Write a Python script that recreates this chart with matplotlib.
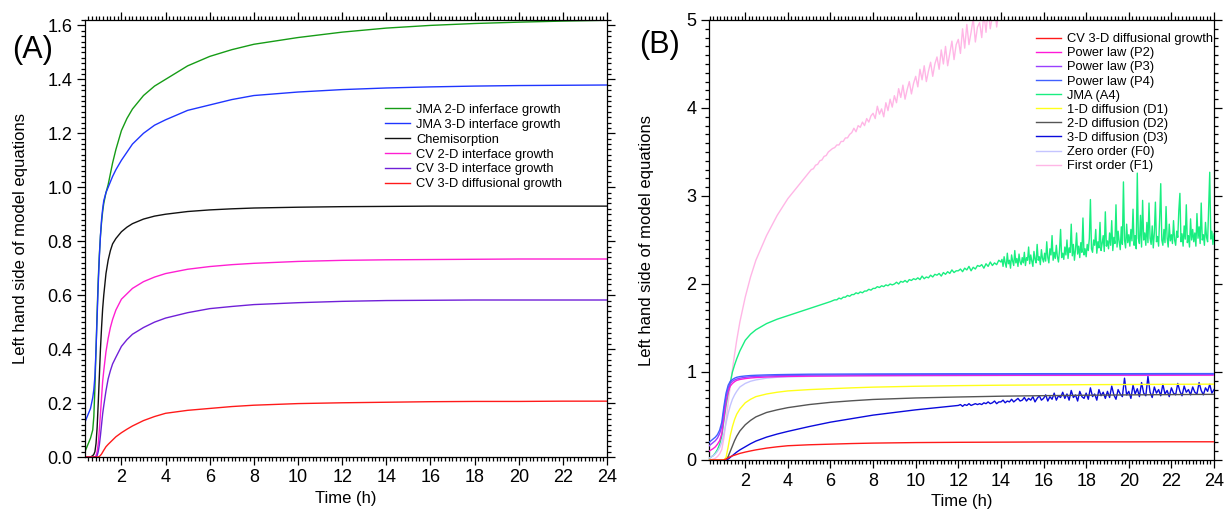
import numpy as np
import matplotlib
matplotlib.use("Agg")
import matplotlib.pyplot as plt
from matplotlib.ticker import MultipleLocator, FormatStrFormatter

plt.rcParams['font.family'] = ['Liberation Sans', 'DejaVu Sans']

# ---------------- Panel A data (time in h, value of g(alpha)) ----------------
t_a = [0.35, 0.5, 0.6, 0.7, 0.75, 0.8, 0.85, 0.9, 0.95, 1.0, 1.05, 1.1, 1.15, 1.2, 1.3,
       1.4, 1.5, 1.6, 1.75, 2.0, 2.25, 2.5, 3.0, 3.5, 4.0, 5.0, 6.0, 7.0, 8.0, 10.0,
       12.0, 14.0, 16.0, 18.0, 20.0, 22.0, 24.0]
jma2d = [0.02, 0.05, 0.07, 0.10, 0.15, 0.26, 0.40, 0.54, 0.66, 0.75, 0.82, 0.87, 0.91, 0.94, 0.98,
         1.01, 1.05, 1.09, 1.14, 1.21, 1.255, 1.29, 1.34, 1.375, 1.40, 1.45, 1.485, 1.51, 1.53, 1.555,
         1.575, 1.59, 1.60, 1.607, 1.612, 1.616, 1.619]
jma3d = [0.13, 0.16, 0.18, 0.22, 0.25, 0.30, 0.40, 0.52, 0.64, 0.74, 0.82, 0.88, 0.92, 0.95, 0.98,
         1.00, 1.02, 1.04, 1.065, 1.10, 1.13, 1.16, 1.20, 1.23, 1.25, 1.285, 1.305, 1.325, 1.34, 1.353,
         1.362, 1.368, 1.372, 1.375, 1.377, 1.378, 1.379]
chemi = [0.0, 0.0, 0.0, 0.005, 0.01, 0.02, 0.05, 0.11, 0.20, 0.30, 0.40, 0.48, 0.55, 0.60, 0.68,
         0.73, 0.765, 0.79, 0.81, 0.835, 0.852, 0.865, 0.882, 0.893, 0.90, 0.91, 0.916, 0.92, 0.923, 0.926,
         0.928, 0.929, 0.93, 0.93, 0.93, 0.93, 0.93]
cv2d = [0.0, 0.0, 0.0, 0.0, 0.0, 0.0, 0.005, 0.02, 0.05, 0.10, 0.16, 0.22, 0.28, 0.32, 0.39,
        0.44, 0.48, 0.51, 0.545, 0.585, 0.605, 0.625, 0.65, 0.667, 0.68, 0.696, 0.706, 0.713, 0.718, 0.725,
        0.729, 0.731, 0.732, 0.733, 0.734, 0.734, 0.734]
cv3d = [0.0, 0.0, 0.0, 0.0, 0.0, 0.0, 0.0, 0.005, 0.02, 0.045, 0.08, 0.12, 0.16, 0.19, 0.245,
        0.29, 0.32, 0.345, 0.37, 0.41, 0.435, 0.455, 0.48, 0.50, 0.515, 0.535, 0.55, 0.558, 0.565, 0.572,
        0.577, 0.58, 0.581, 0.582, 0.582, 0.582, 0.582]
cv3d_diff = [0.0, 0.0, 0.0, 0.0, 0.0, 0.0, 0.0, 0.0, 0.0, 0.002, 0.006, 0.011, 0.018, 0.025, 0.038,
             0.047, 0.055, 0.063, 0.075, 0.09, 0.103, 0.115, 0.135, 0.15, 0.162, 0.173, 0.18, 0.187, 0.192, 0.198,
             0.201, 0.203, 0.205, 0.206, 0.206, 0.207, 0.207]

# ---------------- Panel B data ----------------
t_b = [0.3, 0.5, 0.6, 0.7, 0.8, 0.9, 1.0, 1.1, 1.2, 1.3, 1.4, 1.5, 1.6, 1.75, 2.0,
       2.25, 2.5, 3.0, 3.5, 4.0, 5.0, 6.0, 7.0, 8.0, 10.0, 12.0, 14.0, 16.0, 18.0, 20.0,
       22.0, 24.0]
p2 = [0.10, 0.13, 0.15, 0.18, 0.22, 0.30, 0.48, 0.66, 0.78, 0.84, 0.87, 0.89, 0.905, 0.915, 0.925,
      0.932, 0.937, 0.943, 0.947, 0.95, 0.953, 0.955, 0.957, 0.958, 0.96, 0.961, 0.962, 0.963, 0.963, 0.964,
      0.964, 0.965]
p3 = [0.16, 0.20, 0.22, 0.25, 0.30, 0.38, 0.56, 0.72, 0.82, 0.87, 0.895, 0.91, 0.92, 0.93, 0.94,
      0.946, 0.95, 0.955, 0.958, 0.961, 0.964, 0.966, 0.968, 0.969, 0.97, 0.971, 0.972, 0.972, 0.973, 0.973,
      0.974, 0.974]
p4 = [0.20, 0.24, 0.26, 0.29, 0.34, 0.43, 0.61, 0.76, 0.85, 0.895, 0.915, 0.93, 0.94, 0.948, 0.955,
      0.96, 0.963, 0.967, 0.97, 0.972, 0.975, 0.976, 0.977, 0.978, 0.979, 0.98, 0.98, 0.981, 0.981, 0.981,
      0.982, 0.982]
d1 = [0.0, 0.0, 0.0, 0.0, 0.0, 0.0, 0.0, 0.03, 0.15, 0.28, 0.38, 0.46, 0.52, 0.58, 0.65,
      0.69, 0.72, 0.75, 0.77, 0.785, 0.80, 0.81, 0.82, 0.828, 0.838, 0.845, 0.85, 0.853, 0.856, 0.858,
      0.86, 0.862]
d2 = [0.0, 0.0, 0.0, 0.0, 0.0, 0.0, 0.0, 0.005, 0.04, 0.10, 0.16, 0.22, 0.27, 0.33, 0.40,
      0.45, 0.49, 0.54, 0.57, 0.595, 0.63, 0.655, 0.673, 0.688, 0.705, 0.716, 0.725, 0.731, 0.736, 0.74,
      0.743, 0.746]
f0 = [0.02, 0.05, 0.07, 0.10, 0.14, 0.20, 0.30, 0.42, 0.53, 0.62, 0.69, 0.74, 0.78, 0.83, 0.87,
      0.895, 0.91, 0.93, 0.94, 0.945, 0.95, 0.953, 0.955, 0.957, 0.958, 0.959, 0.96, 0.96, 0.961, 0.961,
      0.962, 0.962]

# 3-D diffusion (D3): smooth part up to 10 h, then the noisy record 12-24 h every 0.1 h
d3_head = [0.0, 0.0, 0.0, 0.0, 0.0, 0.0, 0.0, 0.002, 0.01, 0.03, 0.05, 0.07, 0.09, 0.115, 0.15,
           0.185, 0.215, 0.26, 0.295, 0.325, 0.38, 0.43, 0.47, 0.51, 0.57]
t_d3_tail = np.round(np.arange(12.0, 24.0001, 0.1), 2)
d3_tail = [0.62, 0.63, 0.61, 0.63, 0.62, 0.64, 0.62, 0.63, 0.64, 0.63,
           0.64, 0.63, 0.65, 0.64, 0.66, 0.64, 0.65, 0.67, 0.64, 0.66,
           0.66, 0.68, 0.65, 0.67, 0.66, 0.69, 0.66, 0.68, 0.70, 0.67,
           0.68, 0.71, 0.67, 0.70, 0.68, 0.72, 0.66, 0.70, 0.73, 0.68,
           0.70, 0.74, 0.67, 0.72, 0.69, 0.76, 0.68, 0.73, 0.71, 0.77,
           0.70, 0.75, 0.68, 0.79, 0.71, 0.74, 0.67, 0.78, 0.72, 0.70,
           0.76, 0.69, 0.82, 0.72, 0.75, 0.68, 0.80, 0.73, 0.77, 0.70,
           0.78, 0.71, 0.84, 0.74, 0.69, 0.80, 0.75, 0.72, 0.93, 0.74,
           0.78, 0.70, 0.85, 0.75, 0.81, 0.72, 0.88, 0.76, 0.73, 0.95,
           0.77, 0.71, 0.83, 0.76, 0.80, 0.73, 0.86, 0.75, 0.79, 0.72,
           0.82, 0.76, 0.74, 0.87, 0.78, 0.73, 0.84, 0.77, 0.80, 0.74,
           0.83, 0.77, 0.75, 0.88, 0.79, 0.74, 0.82, 0.78, 0.86, 0.76,
           0.80]

# JMA (A4): smooth rise up to 5 h, 6-14 h every 0.1 h, 14-24 h every 0.05 h
a4_head = [0.02, 0.05, 0.08, 0.12, 0.18, 0.27, 0.45, 0.62, 0.76, 0.88, 1.00, 1.08, 1.15, 1.24, 1.36,
           1.43, 1.48, 1.55, 1.60, 1.64, 1.72]
t_a4_mid = np.round(np.arange(6.0, 14.0001, 0.1), 2)
a4_mid = [1.80, 1.81, 1.82, 1.82, 1.84, 1.83, 1.85, 1.85, 1.87, 1.86,
          1.88, 1.88, 1.90, 1.89, 1.91, 1.90, 1.92, 1.92, 1.94, 1.93,
          1.95, 1.95, 1.97, 1.96, 1.98, 1.97, 1.99, 1.98, 2.00, 1.99,
          2.00, 2.02, 2.00, 2.03, 2.02, 2.04, 2.02, 2.05, 2.04, 2.06,
          2.05, 2.07, 2.05, 2.09, 2.06, 2.08, 2.07, 2.10, 2.08, 2.11,
          2.10, 2.12, 2.09, 2.13, 2.11, 2.14, 2.12, 2.16, 2.13, 2.15,
          2.15, 2.17, 2.14, 2.18, 2.16, 2.20, 2.15, 2.19, 2.17, 2.21,
          2.20, 2.22, 2.18, 2.23, 2.20, 2.25, 2.21, 2.24, 2.22, 2.27,
          2.25]
t_a4_tail = np.round(np.arange(14.05, 24.0001, 0.05), 2)
a4_tail = [2.28, 2.20, 2.31, 2.24, 2.19, 2.35, 2.23, 2.27, 2.18, 2.33, 2.26, 2.21, 2.38, 2.24, 2.29, 2.20, 2.34, 2.25, 2.22, 2.30,
           2.24, 2.36, 2.21, 2.30, 2.27, 2.42, 2.23, 2.33, 2.26, 2.20, 2.37, 2.28, 2.24, 2.45, 2.27, 2.31, 2.22, 2.39, 2.29, 2.25,
           2.35, 2.26, 2.48, 2.30, 2.24, 2.40, 2.33, 2.55, 2.27, 2.36, 2.29, 2.44, 2.31, 2.25, 2.38, 2.62, 2.30, 2.35, 2.28, 2.42,
           2.33, 2.50, 2.29, 2.41, 2.36, 2.68, 2.32, 2.45, 2.27, 2.39, 2.58, 2.34, 2.43, 2.30, 2.47, 2.36, 2.75, 2.33, 2.40, 2.31,
           2.45, 2.38, 2.52, 2.96, 2.40, 2.36, 2.50, 2.44, 2.62, 2.35, 2.48, 2.41, 2.70, 2.38, 2.46, 2.55, 2.37, 2.82, 2.43, 2.49,
           2.40, 2.58, 2.44, 2.72, 2.38, 2.53, 2.46, 2.90, 2.42, 2.60, 2.48, 2.39, 2.65, 2.45, 3.16, 2.50, 2.41, 2.68, 2.47, 2.56,
           2.43, 2.62, 2.49, 2.85, 2.44, 2.55, 2.40, 3.26, 2.52, 2.46, 2.78, 2.42, 2.95, 2.50, 2.58, 2.44, 2.70, 2.47, 2.92, 2.52,
           2.45, 2.66, 2.41, 2.58, 2.93, 2.48, 2.54, 2.43, 2.75, 3.14, 2.50, 2.44, 2.62, 2.47, 2.88, 2.52, 2.42, 2.68, 2.49, 2.56,
           2.46, 2.72, 2.50, 2.44, 2.60, 2.53, 2.84, 3.03, 2.48, 2.57, 2.43, 2.66, 2.51, 2.90, 2.47, 2.55, 2.42, 2.74, 2.50, 2.62,
           2.48, 2.58, 2.43, 2.80, 2.52, 2.65, 2.46, 2.92, 2.50, 2.56, 2.44, 2.70, 2.53, 2.48, 2.86, 3.27, 2.51, 2.60, 2.45, 2.57]

# First order (F1): smooth rise to 4 h, noisy record 5-16 h every 0.1 h, then beyond the axis
f1_head = [0.0, 0.01, 0.02, 0.04, 0.07, 0.12, 0.25, 0.45, 0.65, 0.85, 1.03, 1.20, 1.36, 1.57, 1.85,
           2.08, 2.27, 2.55, 2.78, 2.97]
t_f1_mid = np.round(np.arange(5.0, 16.0001, 0.1), 2)
f1_mid = [3.27, 3.30, 3.31, 3.35, 3.36, 3.40, 3.41, 3.45, 3.46, 3.50,
          3.52, 3.54, 3.55, 3.58, 3.58, 3.62, 3.62, 3.66, 3.66, 3.70,
          3.72, 3.77, 3.73, 3.80, 3.78, 3.84, 3.80, 3.88, 3.84, 3.91,
          3.94, 3.88, 4.02, 3.93, 3.99, 3.90, 4.06, 3.97, 4.10, 4.01,
          4.14, 4.06, 4.22, 4.12, 4.26, 4.10, 4.21, 4.30, 4.16, 4.28,
          4.36, 4.24, 4.44, 4.32, 4.48, 4.30, 4.42, 4.52, 4.36, 4.50,
          4.58, 4.44, 4.66, 4.50, 4.70, 4.48, 4.62, 4.76, 4.55, 4.72,
          4.78, 4.62, 4.90, 4.68, 4.95, 4.72, 4.86, 5.02, 4.75, 4.92,
          4.97, 4.80, 5.08, 4.86, 5.12, 4.90, 5.05, 5.18, 4.92, 5.10,
          5.15, 5.00, 5.25, 5.05, 5.30, 5.08, 5.22, 5.35, 5.10, 5.28,
          5.32, 5.18, 5.40, 5.22, 5.45, 5.25, 5.38, 5.50, 5.30, 5.44,
          5.47]
t_f1_late = [18.0, 20.0, 22.0, 24.0]
f1_late = [5.8, 6.1, 6.35, 6.6]

x_ticks = [2, 4, 6, 8, 10, 12, 14, 16, 18, 20, 22, 24]

fig = plt.figure(figsize=(12.27, 5.18), dpi=100)
ax_a = fig.add_axes([85 / 1227, 61 / 518, 522 / 1227, 437 / 518])
ax_b = fig.add_axes([709 / 1227, 58 / 518, 505 / 1227, 440 / 518])


def style_axis(ax):
    ax.tick_params(which='both', direction='out', top=True, right=True,
                   labeltop=False, labelright=False, labelsize=13, width=0.9,
                   colors='black', pad=3)
    ax.tick_params(which='major', length=6)
    ax.tick_params(which='minor', length=3)
    for s in ax.spines.values():
        s.set_linewidth(0.9)
    ax.set_xticks(x_ticks)
    ax.xaxis.set_minor_locator(MultipleLocator(1 / 6))
    ax.set_xlabel('Time (h)', fontsize=12, labelpad=3)
    ax.set_ylabel('Left hand side of model equations', fontsize=12)


lw = 1.0
ax_a.plot(t_a, jma2d, color='#169c16', lw=lw, label='JMA 2-D inferface growth')
ax_a.plot(t_a, jma3d, color='#1f35ff', lw=lw, label='JMA 3-D interface growth')
ax_a.plot(t_a, chemi, color='#111111', lw=lw, label='Chemisorption')
ax_a.plot(t_a, cv2d, color='#ff1fd2', lw=lw, label='CV 2-D interface growth')
ax_a.plot(t_a, cv3d, color='#7020d8', lw=lw, label='CV 3-D interface growth')
ax_a.plot(t_a, cv3d_diff, color='#ff1a1a', lw=lw, label='CV 3-D diffusional growth')
ax_a.set_xlim(0.35, 24.0)
ax_a.set_ylim(0, 1.62)
ax_a.yaxis.set_major_locator(MultipleLocator(0.2))
ax_a.yaxis.set_minor_locator(MultipleLocator(0.02))
ax_a.yaxis.set_major_formatter(FormatStrFormatter('%.1f'))
style_axis(ax_a)
ax_a.yaxis.labelpad = 14
ax_a.legend(loc='upper left', bbox_to_anchor=(0.575, 0.808), frameon=False, fontsize=9.3,
            handlelength=1.9, handletextpad=0.5, labelspacing=0.22, borderpad=0,
            borderaxespad=0)

t_f1 = list(t_b[:20]) + list(t_f1_mid) + t_f1_late
f1 = f1_head + f1_mid + f1_late
t_a4 = list(t_b[:21]) + list(t_a4_mid) + list(t_a4_tail)
a4 = a4_head + a4_mid + a4_tail
t_d3 = list(t_b[:25]) + list(t_d3_tail)
d3 = d3_head + d3_tail

ax_b.plot(t_f1, f1, color='#ffb6e6', lw=lw, label='First order (F1)', zorder=2)
ax_b.plot(t_a4, a4, color='#19ee80', lw=lw, label='JMA (A4)', zorder=3)
ax_b.plot(t_b, f0, color='#c4c4ff', lw=lw, label='Zero order (F0)', zorder=3)
ax_b.plot(t_d3, d3, color='#0a0adc', lw=lw, label='3-D diffusion (D3)', zorder=4)
ax_b.plot(t_b, d2, color='#555555', lw=lw, label='2-D diffusion (D2)', zorder=4)
ax_b.plot(t_b, d1, color='#ffff1a', lw=lw, label='1-D diffusion (D1)', zorder=4)
ax_b.plot(t_b, p2, color='#ff1ad8', lw=lw, label='Power law (P2)', zorder=4)
ax_b.plot(t_b, p3, color='#9940ff', lw=lw, label='Power law (P3)', zorder=4)
ax_b.plot(t_b, p4, color='#4060ff', lw=lw, label='Power law (P4)', zorder=4)
ax_b.plot(t_a, cv3d_diff, color='#ff1a1a', lw=lw, label='CV 3-D diffusional growth', zorder=4)
ax_b.set_xlim(0.3, 24.0)
ax_b.set_ylim(0, 5)
ax_b.yaxis.set_major_locator(MultipleLocator(1))
ax_b.yaxis.set_minor_locator(MultipleLocator(0.1))
style_axis(ax_b)
ax_b.yaxis.labelpad = 23.5

order = ['CV 3-D diffusional growth', 'Power law (P2)', 'Power law (P3)', 'Power law (P4)',
         'JMA (A4)', '1-D diffusion (D1)', '2-D diffusion (D2)', '3-D diffusion (D3)',
         'Zero order (F0)', 'First order (F1)']
handles, labels = ax_b.get_legend_handles_labels()
hmap = dict(zip(labels, handles))
ax_b.legend([hmap[k] for k in order], order, loc='upper left', bbox_to_anchor=(0.6475, 0.97),
            frameon=False, fontsize=9.3, handlelength=1.9, handletextpad=0.5,
            labelspacing=0.16, borderpad=0, borderaxespad=0)

fig.text(12 / 1227, 1 - 50 / 518, '(A)', fontsize=22, va='center', ha='left')
fig.text(639 / 1227, 1 - 45 / 518, '(B)', fontsize=22, va='center', ha='left')

fig.savefig('out.png', dpi=100)
